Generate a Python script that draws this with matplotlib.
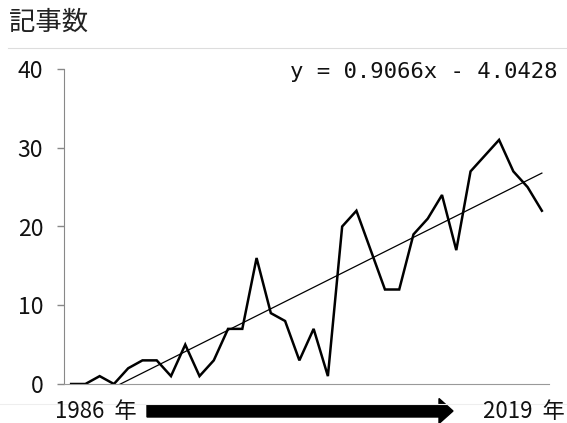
import matplotlib
matplotlib.use('Agg')
import matplotlib.pyplot as plt
from matplotlib.patches import FancyArrow
import numpy as np

plt.rcParams['font.family'] = ['Noto Sans CJK JP', 'DejaVu Sans']

# 記事数 per year, 1986-2019
years = list(range(1986, 2020))
counts = [0, 0, 1, 0, 2, 3, 3, 1, 5, 1,
          3, 7, 7, 16, 9, 8, 3, 7, 1, 20,
          22, 17, 12, 12, 19, 21, 24, 17, 27, 29,
          31, 27, 25, 22]
slope, intercept = 0.9066, -4.0428
yticks = [0, 10, 20, 30, 40]

W, H = 567, 423
fig = plt.figure(figsize=(W / 100, H / 100), dpi=100)

ax = fig.add_axes([64 / W, 1 - 384 / H, (549 - 64) / W, (384 - 69) / H])
x = np.arange(1, len(counts) + 1)
ax.plot(x, counts, color='black', lw=1.8, solid_joinstyle='miter')
ax.plot(x, slope * x + intercept, color='black', lw=0.9)

ax.set_xlim(0.5, len(counts) + 0.5)
ax.set_ylim(0, 40)
ax.set_yticks(yticks)
ax.set_xticks([])
ax.tick_params(axis='y', length=5, width=1, color='#888888', pad=10,
               labelsize=16.5, labelcolor='#111111')
for side in ('top', 'right'):
    ax.spines[side].set_visible(False)
ax.spines['left'].set_color('#888888')
ax.spines['bottom'].set_color('#999999')

ax.text(558 / W, 1 - 78 / H, 'y = 0.9066x - 4.0428', transform=fig.transFigure,
        ha='right', va='baseline', fontsize=16, family='DejaVu Sans Mono',
        color='#111111')

# header and thin separator lines
fig.text(9 / W, 1 - 22 / H, '記事数', ha='left', va='center', fontsize=19,
         color='#222222')
fig.add_artist(plt.Line2D([8 / W, 1], [1 - 48 / H] * 2, color='#dddddd', lw=0.8,
                          transform=fig.transFigure))
fig.add_artist(plt.Line2D([0, 1], [1 - 404 / H] * 2, color='#eeeeee', lw=0.8,
                          transform=fig.transFigure))

# year range with arrow underneath the axis
fig.text(55 / W, 1 - 411 / H, f'{years[0]}  年', ha='left', va='center',
         fontsize=16, color='#111111')
fig.text(565 / W, 1 - 411 / H, f'{years[-1]}  年', ha='right', va='center',
         fontsize=16, color='#111111')
arrow = FancyArrow(1.47, 0.12, 3.06, 0, width=0.12, head_width=0.25,
                   head_length=0.14, length_includes_head=True,
                   color='black', transform=fig.dpi_scale_trans)
fig.add_artist(arrow)

fig.savefig('out.png', dpi=100)
